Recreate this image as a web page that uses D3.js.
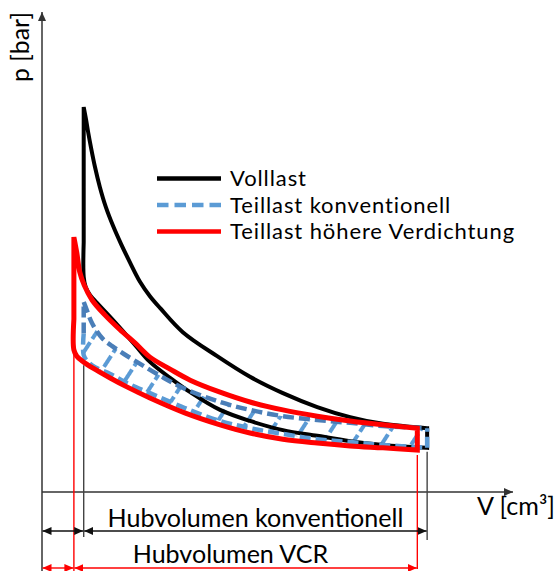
<!DOCTYPE html>
<html>
<head>
<meta charset="utf-8">
<script src="https://cdn.jsdelivr.net/npm/d3@7"></script>
<style>
  body { margin: 0; background: #fff; }
  text { font-family: Lato, "Open Sans", sans-serif; fill: #000; }
</style>
</head>
<body>
<div id="chart"></div>
<script>
// schematic p-V diagram, V in cm³ and p in bar
const vTdcConv = 8.5;   // Kompressionsvolumen konventionell
const vTdcVcr = 6.5;    // Kompressionsvolumen VCR
const hub = 70;         // Hubvolumen (same for both)

// Volllast
const volllastExp = [[8.5,80.2],[9.0,77.5],[9.4,75.0],[10.0,71.7],[10.8,67.7],[11.8,63.5],[13.0,59.4],[14.5,55.4],[16.1,51.7],[17.9,47.9],[20.0,43.75],[22.0,40.8],[24.1,38.3],[28.7,33.3],[35.7,28.3],[42.4,24.0],[49.1,20.6],[56.1,17.7],[62.8,15.6],[69.5,14.2],[78.5,13.3]];
const volllastComp = [[8.5,52],[8.5,44.8],[8.9,42.7],[9.8,41.0],[11.2,39.4],[13.5,36.9],[15.9,34.2],[19.0,30.6],[22.0,27.1],[26.1,23.8],[30.2,20.8],[36.3,17.1],[42.4,14.8],[49.1,12.9],[56.1,11.7],[62.8,10.6],[69.5,9.8],[78.5,9.2]];

// Teillast konventionell
const konvExp = [[8.5,39.6],[9.2,37.7],[10.0,35.6],[11.0,33.75],[12.4,31.9],[14.3,30.4],[16.7,28.75],[20.0,26.7],[24.1,24.2],[29.1,21.5],[36.3,18.75],[42.4,17.1],[49.1,15.8],[56.1,15.0],[62.8,14.4],[69.5,13.75],[78.5,13.3]];
const konvComp = [[8.5,33],[8.5,28.5],[9.4,27.1],[10.8,26.0],[13.9,24.6],[17.3,22.7],[22.0,20.6],[29.1,17.5],[36.3,14.8],[42.4,13.3],[49.1,12.1],[56.1,11.0],[62.8,10.4],[69.5,9.8],[78.5,9.2]];

// Teillast höhere Verdichtung
const vcrExp = [[6.5,53.1],[7.1,49.8],[7.7,45.8],[8.6,43.1],[10.2,40.0],[12.8,36.9],[15.9,33.8],[19.0,31.0],[22.0,28.1],[26.1,25.6],[30.2,23.3],[36.3,20.8],[42.4,18.75],[49.1,17.1],[56.1,15.8],[62.8,14.8],[69.5,14.0],[76.5,13.3]];
const vcrComp = [[6.5,36],[6.5,29.6],[7.1,28.3],[8.2,27.3],[10.4,25.8],[13.9,23.75],[17.3,21.9],[22.0,19.6],[29.1,16.5],[36.3,14.0],[42.4,12.3],[49.1,11.0],[56.1,10.2],[62.8,9.6],[69.5,9.2],[76.5,8.75]];

const legendNames = ["Volllast", "Teillast konventionell", "Teillast höhere Verdichtung"];
const legendColors = ["#000000", "#5b9bd5", "#ff0000"];
const legendDash = [null, "11.5 6", null];

const width = 557, height = 571;

const svg = d3.select("#chart").append("svg")
    .attr("width", width)
    .attr("height", height);

const x = d3.scaleLinear().domain([0, 96]).range([42, 513]);
const y = d3.scaleLinear().domain([0, 100]).range([492, 12]);

const defs = svg.append("defs");

function marker(id, color) {
    defs.append("marker")
        .attr("id", id)
        .attr("viewBox", "0 0 10 10")
        .attr("refX", 10).attr("refY", 5)
        .attr("markerUnits", "userSpaceOnUse")
        .attr("markerWidth", 9).attr("markerHeight", 8)
        .attr("preserveAspectRatio", "none")
        .attr("orient", "auto-start-reverse")
        .append("path")
        .attr("d", "M0,0L10,5L0,10Z")
        .attr("fill", color);
}
marker("arrAxis", "#333");
marker("arrBlack", "#111");
marker("arrRed", "#ff0000");

const line = d3.line()
    .x(d => x(d[0]))
    .y(d => y(d[1]))
    .curve(d3.curveCatmullRom.alpha(0.5));

// closed loop: compression out, vertical at BDC, expansion back, vertical at TDC
function loopPath(comp, exp) {
    const back = line(exp.slice().reverse());
    return line(comp) + "L" + back.slice(1) + "Z";
}

// hatch between the two Teillast-konventionell curves
const hatch = defs.append("pattern")
    .attr("id", "hatch")
    .attr("patternUnits", "userSpaceOnUse")
    .attr("width", 25).attr("height", 34)
    .attr("patternTransform", "rotate(33)");
hatch.append("line")
    .attr("x1", 12).attr("y1", 0).attr("x2", 12).attr("y2", 34)
    .attr("stroke", "#5b9bd5")
    .attr("stroke-width", 4)
    .attr("stroke-dasharray", "13 4");

defs.append("clipPath").attr("id", "konvClip")
    .append("path").attr("d", loopPath(konvComp, konvExp));

svg.append("rect")
    .attr("x", 0).attr("y", 0).attr("width", width).attr("height", height)
    .attr("fill", "url(#hatch)")
    .attr("clip-path", "url(#konvClip)");

// AXES

svg.append("line")
    .attr("x1", x(0)).attr("y1", height).attr("x2", x(0)).attr("y2", y(100))
    .attr("stroke", "#333").attr("stroke-width", 1.5)
    .attr("marker-end", "url(#arrAxis)");

svg.append("line")
    .attr("x1", x(0)).attr("y1", y(0)).attr("x2", x(96)).attr("y2", y(0))
    .attr("stroke", "#333").attr("stroke-width", 1.5)
    .attr("marker-end", "url(#arrAxis)");

// extension lines for the dimensions
const extLines = [
    [vTdcConv, y(28.5) + 10, 537, "#444"],
    [vTdcConv + hub, y(9.2) + 4, 540, "#444"],
    [vTdcVcr, y(29.6), height, "#ff0000"],
    [vTdcVcr + hub, y(8.75) + 5, 569, "#ff0000"]
];
svg.selectAll(".ext")
    .data(extLines)
    .join("line")
    .attr("class", "ext")
    .attr("x1", d => x(d[0])).attr("x2", d => x(d[0]))
    .attr("y1", d => d[1]).attr("y2", d => d[2])
    .attr("stroke", d => d[3])
    .attr("stroke-width", 1.4);

// dimension arrows
const dims = [
    [0, vTdcConv, 531, "#111", "arrBlack"],
    [vTdcConv, vTdcConv + hub, 531, "#111", "arrBlack"],
    [0, vTdcVcr, 568, "#ff0000", "arrRed"],
    [vTdcVcr, vTdcVcr + hub, 568, "#ff0000", "arrRed"]
];
svg.selectAll(".dim")
    .data(dims)
    .join("line")
    .attr("class", "dim")
    .attr("x1", d => x(d[0]) + 0.5).attr("x2", d => x(d[1]) - 0.5)
    .attr("y1", d => d[2]).attr("y2", d => d[2])
    .attr("stroke", d => d[3])
    .attr("stroke-width", 1.4)
    .attr("marker-start", d => "url(#" + d[4] + ")")
    .attr("marker-end", d => "url(#" + d[4] + ")");

// CURVES

svg.append("path")
    .attr("d", loopPath(volllastComp, volllastExp))
    .attr("fill", "none")
    .attr("stroke", "#000")
    .attr("stroke-width", 4);

svg.append("path")
    .attr("d", line(konvComp) + "L" + x(konvExp[konvExp.length - 1][0]) + "," + y(konvExp[konvExp.length - 1][1]))
    .attr("fill", "none")
    .attr("stroke", "#5b9bd5")
    .attr("stroke-width", 4.5)
    .attr("stroke-dasharray", "11 5");

svg.append("path")
    .attr("d", "M" + x(konvComp[0][0]) + "," + y(konvComp[0][1]) + "L" + line(konvExp).slice(1))
    .attr("fill", "none")
    .attr("stroke", "#4a7eb8")
    .attr("stroke-width", 4.5)
    .attr("stroke-dasharray", "11 5");

svg.append("path")
    .attr("d", loopPath(vcrComp, vcrExp))
    .attr("fill", "none")
    .attr("stroke", "#ff0000")
    .attr("stroke-width", 5);

// LEGEND

const legend = svg.append("g")
    .selectAll("g")
    .data(legendNames)
    .join("g")
    .attr("transform", (d, i) => "translate(0 " + (178.5 + i * 26.5) + ")");

legend.append("line")
    .attr("x1", 157).attr("x2", 221)
    .attr("stroke", (d, i) => legendColors[i])
    .attr("stroke-width", 4.5)
    .attr("stroke-dasharray", (d, i) => legendDash[i]);

legend.append("text")
    .attr("x", 230)
    .attr("dy", "0.36em")
    .attr("font-size", 22)
    .attr("letter-spacing", 0.9)
    .text(d => d);

// TEXT

function fitSize(sel, target) {
    const w = d3.max(sel.nodes(), n => n.getComputedTextLength());
    const fs = +sel.attr("font-size");
    sel.attr("font-size", fs * target / w);
}

const dimText = svg.selectAll(".dimText")
    .data([["Hubvolumen konventionell", x(vTdcConv + hub / 2), 527], ["Hubvolumen VCR", 230.5, 563]])
    .join("text")
    .attr("class", "dimText")
    .attr("x", d => d[1]).attr("y", d => d[2])
    .attr("text-anchor", "middle")
    .attr("font-size", 22)
    .text(d => d[0]);
fitSize(dimText, 296);

const vLabel = svg.append("text")
    .attr("x", 477).attr("y", 515)
    .attr("font-size", 22)
    .text("V [cm³]");
fitSize(vLabel, 78);

const pLabel = svg.append("text")
    .attr("transform", "translate(29 47) rotate(-90)")
    .attr("text-anchor", "middle")
    .attr("font-size", 22)
    .text("p [bar]");
fitSize(pLabel, 70);
</script>
</body>
</html>
